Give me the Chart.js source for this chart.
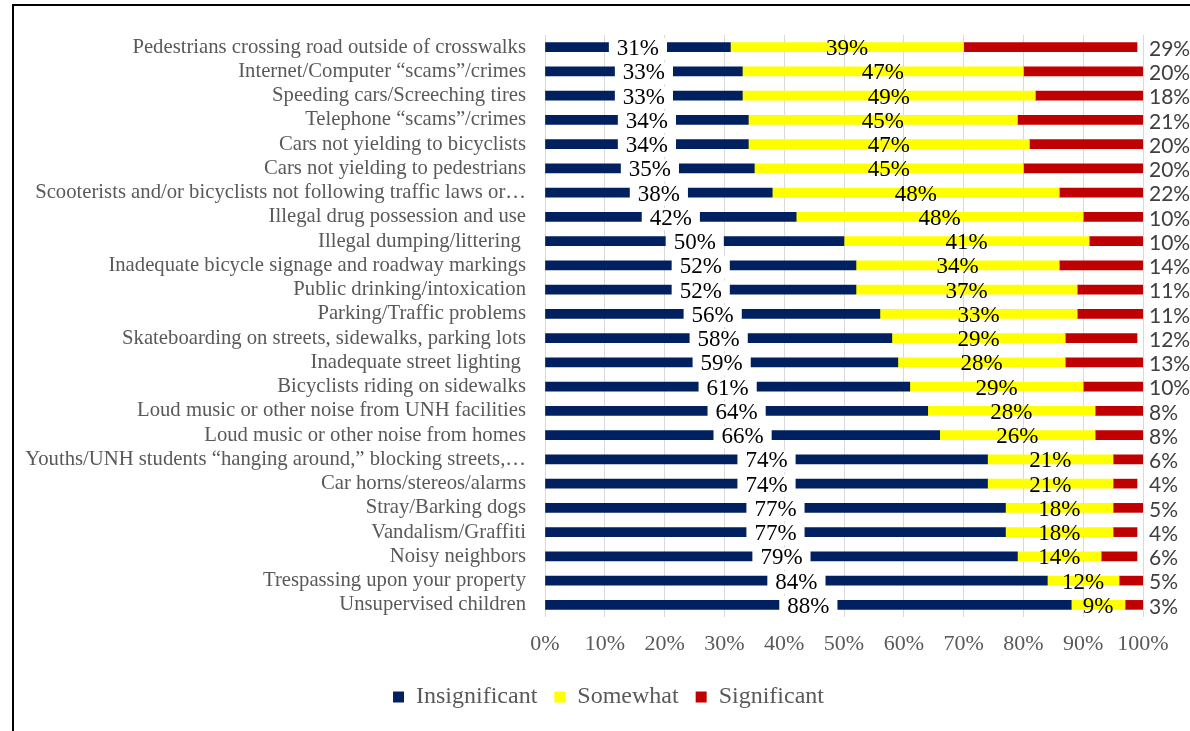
<!DOCTYPE html>
<html>
<head>
<meta charset="utf-8">
<script src="https://cdn.jsdelivr.net/npm/chart.js@4/dist/chart.umd.min.js"></script>
<style>
  body { margin: 0; background: #fff; }
  #wrap { position: relative; width: 1190px; height: 731px; }
  #frame { position: absolute; left: 12px; top: 4px; width: 1190px; height: 740px;
           border-top: 2px solid #000; border-left: 2px solid #000; }
  canvas { position: absolute; left: 0; top: 0; }
</style>
</head>
<body>
<div id="wrap">
  <div id="frame"></div>
  <canvas id="chart" width="1190" height="731"></canvas>
</div>
<script>
// survey categories, top to bottom
const categories = [
    "Pedestrians crossing road outside of crosswalks",
    "Internet/Computer \u201cscams\u201d/crimes",
    "Speeding cars/Screeching tires",
    "Telephone \u201cscams\u201d/crimes",
    "Cars not yielding to bicyclists",
    "Cars not yielding to pedestrians",
    "Scooterists and/or bicyclists not following traffic laws or\u2026",
    "Illegal drug possession and use",
    "Illegal dumping/littering ",
    "Inadequate bicycle signage and roadway markings",
    "Public drinking/intoxication",
    "Parking/Traffic problems",
    "Skateboarding on streets, sidewalks, parking lots",
    "Inadequate street lighting ",
    "Bicyclists riding on sidewalks",
    "Loud music or other noise from UNH facilities",
    "Loud music or other noise from homes",
    "Youths/UNH students \u201changing around,\u201d blocking streets,\u2026",
    "Car horns/stereos/alarms",
    "Stray/Barking dogs",
    "Vandalism/Graffiti",
    "Noisy neighbors",
    "Trespassing upon your property",
    "Unsupervised children"
];

// percentages per series
const insignificant = [31, 33, 33, 34, 34, 35, 38, 42, 50, 52, 52, 56, 58, 59, 61, 64, 66, 74, 74, 77, 77, 79, 84, 88];
const somewhat      = [39, 47, 49, 45, 47, 45, 48, 48, 41, 34, 37, 33, 29, 28, 29, 28, 26, 21, 21, 18, 18, 14, 12, 9];
const significant   = [29, 20, 18, 21, 20, 20, 22, 10, 10, 14, 11, 11, 12, 13, 10, 8, 8, 6, 4, 5, 4, 6, 5, 3];

const tickValues = [0, 10, 20, 30, 40, 50, 60, 70, 80, 90, 100];

const serif = "'Liberation Serif', 'Times New Roman', serif";

// draws the percentage labels on the bars
const valueLabels = {
    id: "valueLabels",
    afterDatasetsDraw(chart) {
        const c = chart.ctx;
        const xScale = chart.scales.x;
        c.save();
        c.textBaseline = "middle";
        chart.data.datasets.forEach((ds, di) => {
            const meta = chart.getDatasetMeta(di);
            meta.data.forEach((bar, i) => {
                const txt = ds.data[i] + "%";
                const y = bar.y + 2;
                if (di === 0) {
                    c.font = "23px " + serif;
                    const w = c.measureText(txt).width;
                    const cx = (bar.x + bar.base) / 2;
                    c.fillStyle = "#fff";
                    c.fillRect(cx - w / 2 - 8, y - 11, w + 16, 22);
                    c.fillStyle = "#000";
                    c.textAlign = "center";
                    c.fillText(txt, cx, y);
                } else if (di === 1) {
                    c.font = "23px " + serif;
                    c.fillStyle = "#000";
                    c.textAlign = "center";
                    c.fillText(txt, (bar.x + bar.base) / 2, y);
                } else {
                    c.font = "21px Lato, sans-serif";
                    c.fillStyle = "#404040";
                    c.textAlign = "left";
                    c.fillText(txt, xScale.getPixelForValue(100) + 6, y);
                }
            });
        });
        c.restore();
    }
};

// nudge the legend to sit under the middle of the plot like the original
const legendShift = {
    id: "legendShift",
    afterLayout(chart) {
        chart.legend.left += 37;
        chart.legend.right += 37;
    }
};

new Chart(document.getElementById("chart"), {
    type: "bar",
    data: {
        labels: categories,
        datasets: [
            { label: "Insignificant", data: insignificant, backgroundColor: "#002060" },
            { label: "Somewhat", data: somewhat, backgroundColor: "#FFFF00" },
            { label: "Significant", data: significant, backgroundColor: "#C00000" }
        ]
    },
    options: {
        indexAxis: "y",
        responsive: false,
        animation: false,
        barThickness: 9,
        layout: { padding: { top: 35, right: 47, left: 0, bottom: 12 } },
        scales: {
            x: {
                stacked: true,
                min: 0,
                max: 100,
                afterBuildTicks: s => { s.ticks = tickValues.map(v => ({ value: v })); },
                afterFit: s => { s.height = 51; },
                grid: { color: "#d9d9d9", drawTicks: false },
                border: { display: false },
                ticks: {
                    padding: 14,
                    color: "#595959",
                    font: { family: serif, size: 22 },
                    callback: v => v + "%"
                }
            },
            y: {
                stacked: true,
                afterFit: s => { s.width = 545; },
                grid: { display: false, drawTicks: false },
                border: { display: false },
                ticks: {
                    padding: 19,
                    color: "#595959",
                    font: { family: serif, size: 20.7 },
                    autoSkip: false
                }
            }
        },
        plugins: {
            legend: {
                position: "bottom",
                labels: {
                    boxWidth: 11,
                    boxHeight: 11,
                    padding: 17,
                    color: "#595959",
                    font: { family: serif, size: 24 }
                }
            },
            tooltip: { enabled: false }
        }
    },
    plugins: [valueLabels, legendShift]
});
</script>
</body>
</html>
